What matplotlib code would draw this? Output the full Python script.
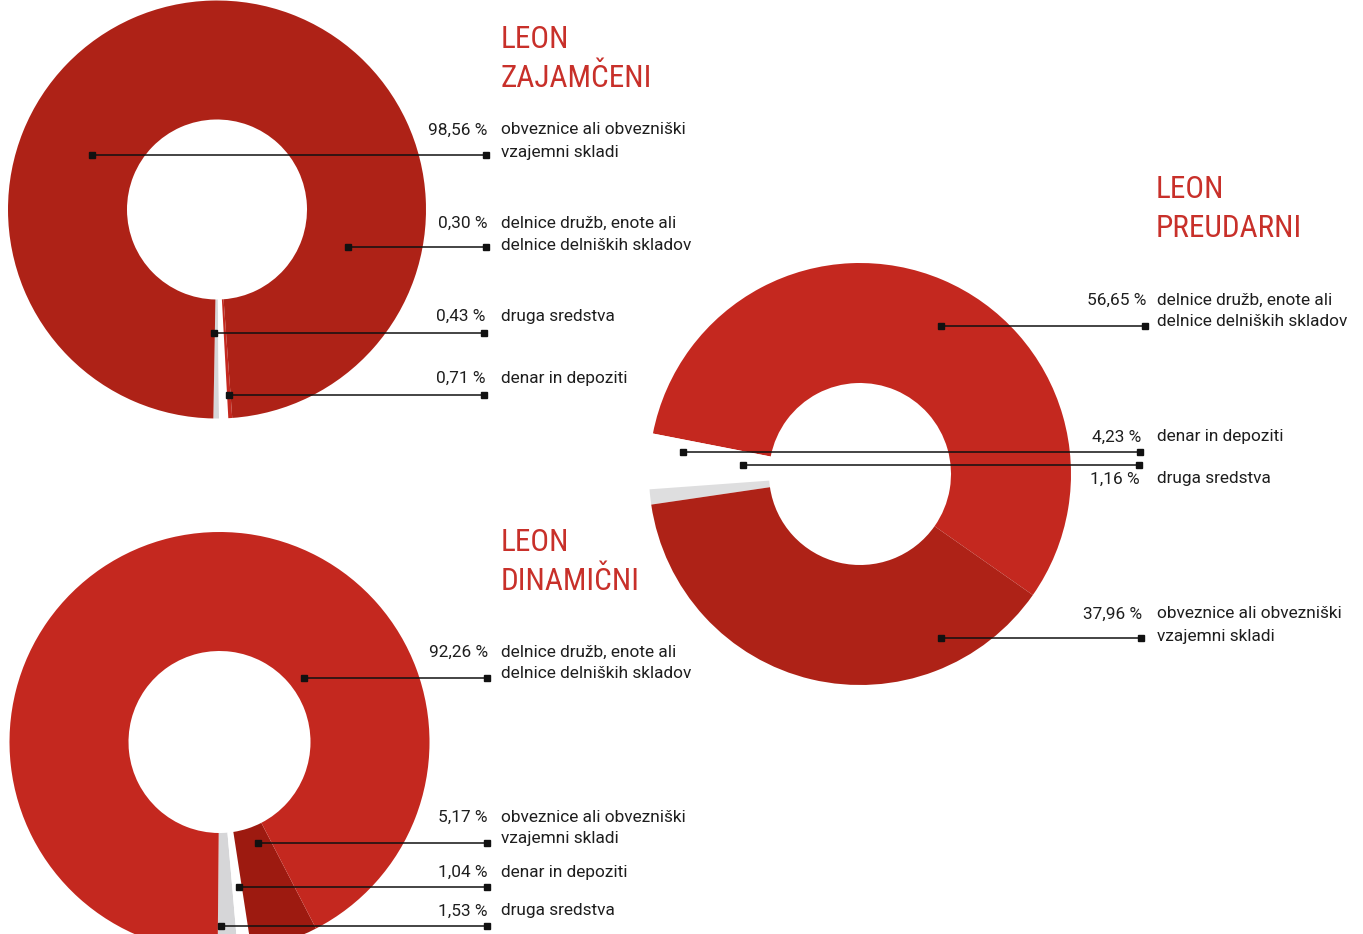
import matplotlib.pyplot as plt
from matplotlib import font_manager

W, H = 1363, 934

# =========================
# data
# =========================
ZAJ_TITLE = ["LEON", "ZAJAMČENI"]
ZAJ_NAMES = ["druga sredstva", "denar in depoziti", "delnice družb, enote ali\ndelnice delniških skladov",
             "obveznice ali obvezniški\nvzajemni skladi"]
ZAJ_VALUES = [0.43, 0.71, 0.30, 98.56]

PRE_TITLE = ["LEON", "PREUDARNI"]
PRE_NAMES = ["delnice družb, enote ali\ndelnice delniških skladov", "denar in depoziti",
             "druga sredstva", "obveznice ali obvezniški\nvzajemni skladi"]
PRE_VALUES = [56.65, 4.23, 1.16, 37.96]

DIN_TITLE = ["LEON", "DINAMIČNI"]
DIN_NAMES = ["druga sredstva", "denar in depoziti", "obveznice ali obvezniški\nvzajemni skladi",
             "delnice družb, enote ali\ndelnice delniških skladov"]
DIN_VALUES = [1.53, 1.04, 5.17, 92.26]

# =========================
# style
# =========================
DARK = "#ae2217"
LIGHT = "#c4281f"
DARKER = "#9d1a10"
GRAY = "#d6d6d8"
TITLE_RED = "#c8302a"
TXT = "#1e1e1e"

names = {f.name for f in font_manager.fontManager.ttflist}
BODY = "Roboto" if "Roboto" in names else "DejaVu Sans"
TITLE_FONT, TITLE_STRETCH = "DejaVu Sans", "condensed"
for cand in ["Roboto Condensed", "Archivo Narrow", "Asap Condensed", "Liberation Sans Narrow"]:
    if cand in names:
        TITLE_FONT, TITLE_STRETCH = cand, "normal"
        break

BODY_SIZE = 12.4


def fy(y):
    return H - y


def fmt(v):
    return f"{v:.2f}".replace(".", ",") + " %"


fig = plt.figure(figsize=(W / 100, H / 100), dpi=100)
ax = fig.add_axes([0, 0, 1, 1])


def donut(values, colors, cx, cy, r, inner, start):
    ax.pie(values, colors=colors, center=(cx, fy(cy)), radius=r, startangle=start,
           counterclock=True, frame=True,
           wedgeprops=dict(width=r - inner, linewidth=0))


def title(lines, x, y):
    for i, t in enumerate(lines):
        ax.text(x, fy(y + i * 39), t, color=TITLE_RED, fontsize=22.5, family=TITLE_FONT,
                fontstretch=TITLE_STRETCH, ha="left", va="baseline")


# LEON ZAJAMČENI
donut(ZAJ_VALUES, [GRAY, "white", LIGHT, DARK], 217, 209.5, 209, 90, 269)
title(ZAJ_TITLE, 501, 48)
# (value idx, pct right edge, y centre of first line, leader y, leader x0)
zaj_rows = [(3, 487, 130, 155, 92), (2, 487, 223, 247, 348),
            (0, 485, 316, 333, 214), (1, 485, 378, 395, 229)]

# LEON PREUDARNI
donut(PRE_VALUES, [LIGHT, "white", "#dededf", DARK], 860, 474, 211, 91, 325)
title(PRE_TITLE, 1156, 198)
pre_rows = [(0, 1146, 300, 326, 941), (1, 1141, 437, 452, 683),
            (2, 1140, 479, 465, 743), (3, 1142, 614, 638, 941)]

# LEON DINAMIČNI
donut(DIN_VALUES, [GRAY, "white", DARKER, LIGHT], 219.5, 742, 210, 91, 269.5)
title(DIN_TITLE, 501, 551)
din_rows = [(3, 488, 652, 678, 304), (2, 488, 817, 843, 258),
            (1, 488, 872, 887, 239), (0, 488, 911, 926, 221)]

for rows, vals, nms, name_x in [(zaj_rows, ZAJ_VALUES, ZAJ_NAMES, 501),
                                (pre_rows, PRE_VALUES, PRE_NAMES, 1157),
                                (din_rows, DIN_VALUES, DIN_NAMES, 501)]:
    for idx, pr, yc, ly, x0 in rows:
        ax.text(pr, fy(yc), fmt(vals[idx]), ha="right", va="center", fontsize=BODY_SIZE,
                color=TXT, family=BODY)
        for k, part in enumerate(nms[idx].split("\n")):
            ax.text(name_x, fy(yc + 22 * k), part, ha="left", va="center", fontsize=BODY_SIZE,
                    color=TXT, family=BODY)
        ax.plot([x0, pr - 1], [fy(ly), fy(ly)], color="#111111", lw=1.1,
                marker="s", markersize=4.5, zorder=5)

ax.set_autoscale_on(False)
ax.set_xlim(0, W)
ax.set_ylim(0, H)
ax.set_aspect("auto")
ax.axis("off")

fig.savefig("out.png", dpi=100)
